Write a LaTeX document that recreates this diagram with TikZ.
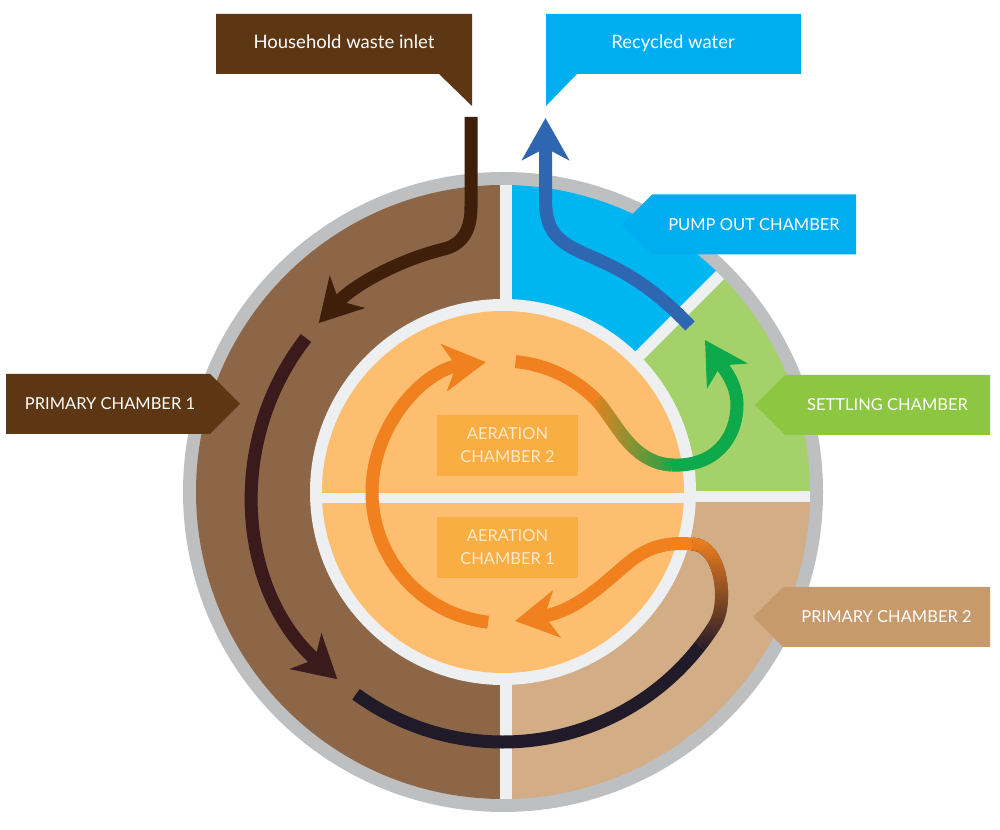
\documentclass[tikz,border=0pt]{standalone}
\usepackage{fontspec}
\setmainfont{Lato}
\usetikzlibrary{arrows.meta,calc,fadings}

\definecolor{ringgray}{HTML}{BDBFC1}
\definecolor{gaplight}{HTML}{EEEFF1}
\definecolor{chbrown}{HTML}{8C6647}
\definecolor{chblue}{HTML}{00B6F0}
\definecolor{chgreen}{HTML}{A5D16B}
\definecolor{chtan}{HTML}{D2AD85}
\definecolor{aerdisc}{HTML}{FDBF6F}
\definecolor{aerfill}{HTML}{F8AE42}
\definecolor{aertext}{HTML}{FFE8C8}
\definecolor{labbrown}{HTML}{5D3714}
\definecolor{labcyan}{HTML}{00AEEF}
\definecolor{labgreen}{HTML}{8DC641}
\definecolor{labtan}{HTML}{C69A6A}
\definecolor{inletcol}{HTML}{3F1F0A}
\definecolor{sludgecol}{HTML}{3B1A1C}
\definecolor{deepcol}{HTML}{211A29}
\definecolor{aircol}{HTML}{F1801F}
\definecolor{settlecol}{HTML}{0DA94B}
\definecolor{pumpcol}{HTML}{2F66B2}

\tikzfading[name=fadeup, top color=transparent!0, bottom color=transparent!100]
\tikzfading[name=faderight, left color=transparent!100, right color=transparent!0]

\begin{document}
\begin{tikzpicture}[x=1pt, y=1pt,
  pipeline/.style={line width=13pt},
  flowtip/.style={-{Stealth[length=42pt,width=47pt,inset=12pt]}},
  labtext/.style={text=white, font=\fontsize{16.5}{20}\selectfont, inner sep=0pt, text height=12pt, text depth=0pt},
  toptext/.style={labtext, font=\fontsize{18.5}{22}\selectfont, text height=13pt},
  aerlabel/.style={fill=aerfill, text=aertext, minimum width=141pt, minimum height=61pt, align=center, font=\fontsize{16.5}{23}\selectfont, inner sep=0pt},
  gapline/.style={gaplight, line width=11.5pt}]
\useasboundingbox (0,0) rectangle (1000,829);
\coordinate (c) at (503,337);
\fill[ringgray] (c) circle[radius=320pt];
\foreach \a/\b/\col in {90/270/chbrown, 45/90/chblue, 0/45/chgreen, -90/0/chtan}
  \fill[\col] (c) -- ($(c)+(\a:307pt)$) arc[start angle=\a, end angle=\b, radius=307pt] -- cycle;
\begin{scope}
\clip (c) circle[radius=307pt];
\draw[gapline] (506,0) -- (506,829);
\draw[gapline] (503,332.5) -- (830,332.5);
\draw[gapline] (c) -- ++(45:330pt);
\end{scope}
\fill[gaplight] (c) circle[radius=193pt];
\fill[aerdisc] (c) circle[radius=181pt];
\draw[gapline, line width=10pt] (312,331) -- (694,331);

\node[aerlabel] (aer2) at (507.5,383.5) {AERATION\\CHAMBER 2};
\node[aerlabel] (aer1) at (507.5,281.5) {AERATION\\CHAMBER 1};

\draw[pipeline, inletcol, flowtip] (471,712) -- (471,622) .. controls (471,598) and (462,584) .. ($(c)+(104:250pt)$) arc[start angle=104, end angle=137.5, radius=250pt];
\draw[pipeline, sludgecol, flowtip] ($(c)+(142:250pt)$) arc[start angle=142, end angle=228.5, radius=250pt];
\draw[pipeline, deepcol] ($(c)+(234:250pt)$) arc[start angle=234, end angle=322, radius=250pt];
\draw[pipeline, deepcol] ($(c)+(322:250pt)$) arc[start angle=322, end angle=328, radius=250pt] .. controls +(58:25pt) and (722,284) .. (692,285);
\draw[pipeline, aircol, path fading=fadeup] ($(c)+(322:250pt)$) arc[start angle=322, end angle=328, radius=250pt] .. controls +(58:25pt) and (722,284) .. (692,285);
\draw[pipeline, aircol, flowtip] (692,285) .. controls (665,287) and (648,282) .. (628,266) .. controls (600,242) and (575,218) .. (515,208);

\draw[pipeline, aircol, flowtip] ($(c)+(263.5:131pt)$) arc[start angle=263.5, end angle=97.5, radius=131pt];
\draw[pipeline, aircol] ($(c)+(84.5:131pt)$) arc[start angle=84.5, end angle=45, radius=131pt];
\draw[pipeline, aircol] ($(c)+(45:131pt)$) .. controls +(-45:27pt) and (630,366) .. (672,364);
\draw[pipeline, settlecol, path fading=faderight] ($(c)+(45:131pt)$) .. controls +(-45:27pt) and (630,366) .. (672,364);
\draw[pipeline, settlecol, flowtip] (672,364) .. controls (714,362) and (737,390) .. (737,425) .. controls (737,448) and (718,468) .. (705,489);

\draw[pipeline, pumpcol, flowtip] (690,503) .. controls (650,545) and (620,560) .. (585,575) .. controls (555,588) and (545.5,600) .. (545.5,630) -- (545.5,711);

\fill[labbrown] (216,815) -- (472,815) -- (472,723) -- (439,755) -- (216,755) -- cycle;
\node[toptext] (inlet) at (344,787) {Household waste inlet};
\fill[labcyan] (546,815) -- (801,815) -- (801,755) -- (577,755) -- (546,723) -- cycle;
\node[toptext] (recycled) at (673,787) {Recycled water};
\fill[labbrown] (6,455) -- (210,455) -- (240,425) -- (210,395) -- (6,395) -- cycle;
\node[labtext] (prim1) at (110,425) {PRIMARY CHAMBER 1};
\foreach \xa/\xb/\y/\col/\txt/\nm in {652/856/604.5/labcyan/PUMP OUT CHAMBER/pump, 785/990/424/labgreen/SETTLING CHAMBER/settling, 783/990/212/labtan/PRIMARY CHAMBER 2/prim2} {
  \fill[\col] (\xb,\y+30) -- (\xa,\y+30) -- (\xa-30,\y) -- (\xa,\y-30) -- (\xb,\y-30) -- cycle;
  \node[labtext] (\nm) at ({(\xa+\xb)/2},\y) {\txt};
}
\end{tikzpicture}
\end{document}
